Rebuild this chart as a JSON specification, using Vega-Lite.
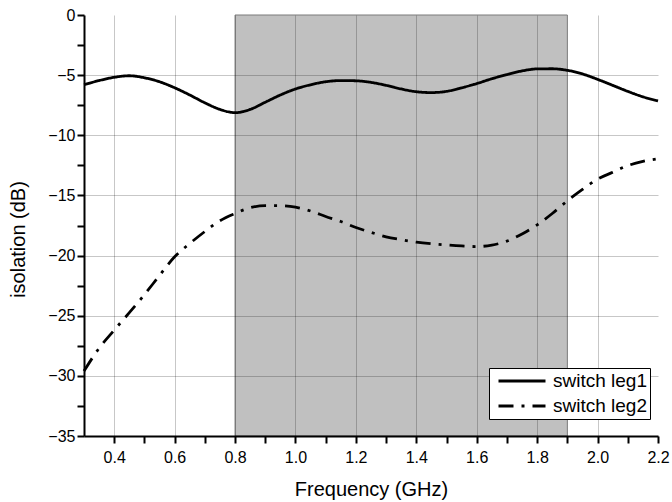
{
  "$schema": "https://vega.github.io/schema/vega-lite/v6.json",
  "width": 574,
  "height": 421,
  "autosize": {"type": "none"},
  "padding": {"left": 84, "top": 15, "right": 14, "bottom": 66},
  "background": "white",
  "config": {"view": {"stroke": null}, "font": "Liberation Sans"},
  "datasets": {
    "band": [{"f": 0.8, "f2": 1.9, "iso": -35, "iso2": 0}],
    "curves": [
      {"f": 0.30, "iso": -5.80, "series": "switch leg1"},
      {"f": 0.35, "iso": -5.45, "series": "switch leg1"},
      {"f": 0.40, "iso": -5.18, "series": "switch leg1"},
      {"f": 0.45, "iso": -5.05, "series": "switch leg1"},
      {"f": 0.50, "iso": -5.22, "series": "switch leg1"},
      {"f": 0.55, "iso": -5.55, "series": "switch leg1"},
      {"f": 0.60, "iso": -6.05, "series": "switch leg1"},
      {"f": 0.65, "iso": -6.65, "series": "switch leg1"},
      {"f": 0.70, "iso": -7.30, "series": "switch leg1"},
      {"f": 0.75, "iso": -7.85, "series": "switch leg1"},
      {"f": 0.80, "iso": -8.12, "series": "switch leg1"},
      {"f": 0.85, "iso": -7.85, "series": "switch leg1"},
      {"f": 0.90, "iso": -7.25, "series": "switch leg1"},
      {"f": 0.95, "iso": -6.65, "series": "switch leg1"},
      {"f": 1.00, "iso": -6.15, "series": "switch leg1"},
      {"f": 1.05, "iso": -5.80, "series": "switch leg1"},
      {"f": 1.10, "iso": -5.55, "series": "switch leg1"},
      {"f": 1.15, "iso": -5.45, "series": "switch leg1"},
      {"f": 1.20, "iso": -5.47, "series": "switch leg1"},
      {"f": 1.25, "iso": -5.60, "series": "switch leg1"},
      {"f": 1.30, "iso": -5.85, "series": "switch leg1"},
      {"f": 1.35, "iso": -6.15, "series": "switch leg1"},
      {"f": 1.40, "iso": -6.38, "series": "switch leg1"},
      {"f": 1.45, "iso": -6.45, "series": "switch leg1"},
      {"f": 1.50, "iso": -6.35, "series": "switch leg1"},
      {"f": 1.55, "iso": -6.05, "series": "switch leg1"},
      {"f": 1.60, "iso": -5.70, "series": "switch leg1"},
      {"f": 1.65, "iso": -5.30, "series": "switch leg1"},
      {"f": 1.70, "iso": -4.95, "series": "switch leg1"},
      {"f": 1.75, "iso": -4.65, "series": "switch leg1"},
      {"f": 1.80, "iso": -4.48, "series": "switch leg1"},
      {"f": 1.85, "iso": -4.47, "series": "switch leg1"},
      {"f": 1.90, "iso": -4.60, "series": "switch leg1"},
      {"f": 1.95, "iso": -4.90, "series": "switch leg1"},
      {"f": 2.00, "iso": -5.35, "series": "switch leg1"},
      {"f": 2.05, "iso": -5.85, "series": "switch leg1"},
      {"f": 2.10, "iso": -6.35, "series": "switch leg1"},
      {"f": 2.15, "iso": -6.80, "series": "switch leg1"},
      {"f": 2.20, "iso": -7.15, "series": "switch leg1"},
      {"f": 0.30, "iso": -29.6, "series": "switch leg2"},
      {"f": 0.35, "iso": -27.7, "series": "switch leg2"},
      {"f": 0.40, "iso": -26.2, "series": "switch leg2"},
      {"f": 0.45, "iso": -24.75, "series": "switch leg2"},
      {"f": 0.50, "iso": -23.25, "series": "switch leg2"},
      {"f": 0.55, "iso": -21.65, "series": "switch leg2"},
      {"f": 0.60, "iso": -20.1, "series": "switch leg2"},
      {"f": 0.65, "iso": -19.0, "series": "switch leg2"},
      {"f": 0.70, "iso": -18.0, "series": "switch leg2"},
      {"f": 0.75, "iso": -17.1, "series": "switch leg2"},
      {"f": 0.80, "iso": -16.5, "series": "switch leg2"},
      {"f": 0.85, "iso": -16.02, "series": "switch leg2"},
      {"f": 0.90, "iso": -15.85, "series": "switch leg2"},
      {"f": 0.95, "iso": -15.85, "series": "switch leg2"},
      {"f": 1.00, "iso": -15.97, "series": "switch leg2"},
      {"f": 1.05, "iso": -16.3, "series": "switch leg2"},
      {"f": 1.10, "iso": -16.75, "series": "switch leg2"},
      {"f": 1.15, "iso": -17.17, "series": "switch leg2"},
      {"f": 1.20, "iso": -17.67, "series": "switch leg2"},
      {"f": 1.25, "iso": -18.07, "series": "switch leg2"},
      {"f": 1.30, "iso": -18.45, "series": "switch leg2"},
      {"f": 1.35, "iso": -18.68, "series": "switch leg2"},
      {"f": 1.40, "iso": -18.88, "series": "switch leg2"},
      {"f": 1.45, "iso": -19.02, "series": "switch leg2"},
      {"f": 1.50, "iso": -19.12, "series": "switch leg2"},
      {"f": 1.55, "iso": -19.2, "series": "switch leg2"},
      {"f": 1.60, "iso": -19.25, "series": "switch leg2"},
      {"f": 1.65, "iso": -19.13, "series": "switch leg2"},
      {"f": 1.70, "iso": -18.8, "series": "switch leg2"},
      {"f": 1.75, "iso": -18.2, "series": "switch leg2"},
      {"f": 1.80, "iso": -17.45, "series": "switch leg2"},
      {"f": 1.85, "iso": -16.5, "series": "switch leg2"},
      {"f": 1.90, "iso": -15.45, "series": "switch leg2"},
      {"f": 1.95, "iso": -14.5, "series": "switch leg2"},
      {"f": 2.00, "iso": -13.65, "series": "switch leg2"},
      {"f": 2.05, "iso": -13.08, "series": "switch leg2"},
      {"f": 2.10, "iso": -12.52, "series": "switch leg2"},
      {"f": 2.15, "iso": -12.17, "series": "switch leg2"},
      {"f": 2.20, "iso": -11.95, "series": "switch leg2"}
    ]
  },
  "encoding": {
    "x": {
      "field": "f",
      "type": "quantitative",
      "scale": {"domain": [0.3, 2.2], "nice": false, "zero": false},
      "axis": {
        "title": "Frequency (GHz)",
        "values": [0.4, 0.5, 0.6, 0.7, 0.8, 0.9, 1.0, 1.1, 1.2, 1.3, 1.4, 1.5, 1.6, 1.7, 1.8, 1.9, 2.0, 2.1, 2.2],
        "labelExpr": "round(datum.value*10)%2===0 ? format(datum.value,'.1f') : ''",
        "tickSize": 7,
        "encode": {"ticks": {"update": {"y2": [{"test": "round(datum.value*10)%2!==0", "value": 4}, {"value": 7}]}}},
        "gridOpacity": {"condition": {"test": "round(datum.value*10)%2===0 && datum.value<2.15", "value": 0.22}, "value": 0},
        "gridColor": "#000",
        "gridWidth": 1,
        "domainColor": "#000",
        "domainWidth": 2,
        "tickColor": "#000",
        "tickWidth": 2,
        "labelFont": "Liberation Sans",
        "labelFontSize": 16,
        "labelColor": "#000",
        "labelPadding": 6,
        "labelFlush": false,
        "labelOverlap": false,
        "titleFont": "Liberation Sans",
        "titleFontSize": 20,
        "titleFontWeight": "normal",
        "titleColor": "#000",
        "titlePadding": 14,
        "zindex": 1
      }
    },
    "y": {
      "field": "iso",
      "type": "quantitative",
      "scale": {"domain": [-35, 0], "nice": false, "zero": false},
      "axis": {
        "title": "isolation (dB)",
        "values": [-35, -32.5, -30, -27.5, -25, -22.5, -20, -17.5, -15, -12.5, -10, -7.5, -5, -2.5, 0],
        "labelExpr": "datum.value%5===0 ? format(datum.value,'d') : ''",
        "tickSize": 7,
        "encode": {"ticks": {"update": {"x2": [{"test": "datum.value%5!==0", "value": -4}, {"value": -7}]}}},
        "gridOpacity": {"condition": {"test": "datum.value%5===0 && datum.value<-1", "value": 0.22}, "value": 0},
        "gridColor": "#000",
        "gridWidth": 1,
        "domainColor": "#000",
        "domainWidth": 2,
        "tickColor": "#000",
        "tickWidth": 2,
        "labelFont": "Liberation Sans",
        "labelFontSize": 16,
        "labelColor": "#000",
        "labelPadding": 2,
        "labelFlush": false,
        "labelOverlap": false,
        "titleFont": "Liberation Sans",
        "titleFontSize": 20,
        "titleFontWeight": "normal",
        "titleColor": "#000",
        "titlePadding": 19,
        "titleY": 224,
        "zindex": 1
      }
    }
  },
  "layer": [
    {
      "data": {"name": "band"},
      "mark": {"type": "rect", "fill": "#c0c0c0", "stroke": "#7a7a7a", "strokeWidth": 1},
      "encoding": {
        "x2": {"field": "f2"},
        "y2": {"field": "iso2"}
      }
    },
    {
      "data": {"name": "curves"},
      "mark": {"type": "line", "interpolate": "monotone", "color": "black", "strokeWidth": 2.8},
      "encoding": {
        "strokeDash": {
          "field": "series",
          "type": "nominal",
          "scale": {"domain": ["switch leg1", "switch leg2"], "range": [[1, 0], [15, 8, 3, 8]]},
          "legend": {
            "orient": "none",
            "legendX": 405,
            "legendY": 353,
            "title": null,
            "symbolType": "stroke",
            "symbolSize": 2209,
            "symbolStrokeWidth": 2.8,
            "symbolStrokeColor": "black",
            "clipHeight": 20,
            "labelFont": "Liberation Sans",
            "labelFontSize": 19,
            "labelColor": "#000",
            "labelOffset": 6,
            "labelLimit": 300,
            "padding": 3,
            "symbolOffset": 5,
            "rowPadding": 5,
            "fillColor": "white",
            "strokeColor": "black",
            "zindex": 2
          }
        }
      }
    }
  ]
}
